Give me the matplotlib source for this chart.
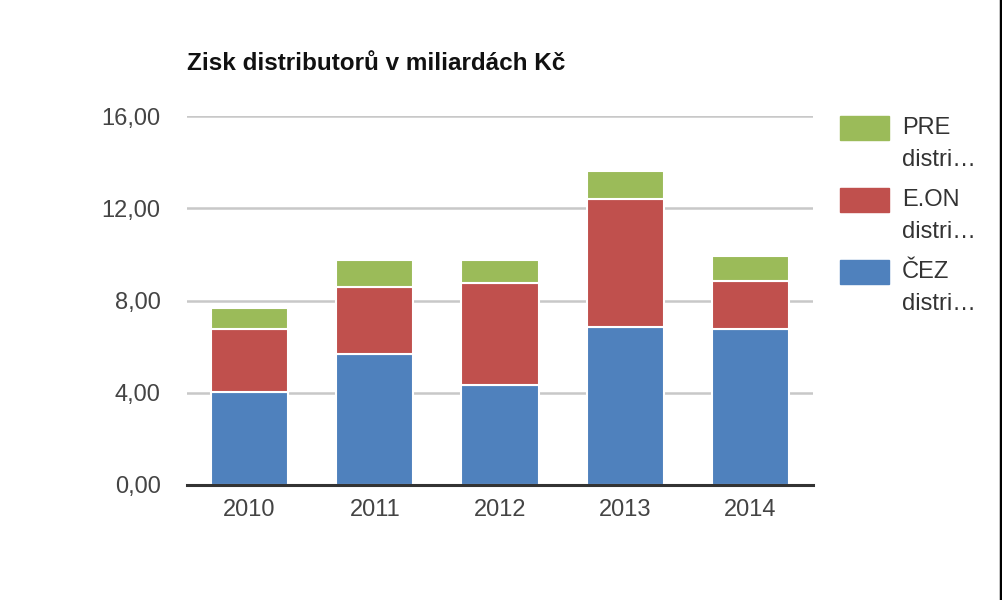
import matplotlib

matplotlib.use("Agg")
import matplotlib.pyplot as plt
import numpy as np
from matplotlib.patches import Rectangle
from matplotlib.lines import Line2D

plt.rcParams["font.family"] = ["Liberation Sans", "DejaVu Sans"]

years = ["2010", "2011", "2012", "2013", "2014"]
cez = [4.05, 5.68, 4.34, 6.87, 6.77]
eon = [2.73, 2.92, 4.43, 5.52, 2.09]
pre = [0.88, 1.16, 0.99, 1.24, 1.07]
yticks = [0, 4, 8, 12, 16]
series_names = ["PRE\ndistri…", "E.ON\ndistri…", "ČEZ\ndistri…"]
colors = {"cez": "#4F81BD", "eon": "#C0504D", "pre": "#9BBB59"}

W, H = 1003, 600
fig = plt.figure(figsize=(W / 100, H / 100), dpi=100)
ax = fig.add_axes([187 / W, 1 - 485 / H, 626 / W, 369 / H])

x = np.arange(len(years))
cez_a = np.array(cez)
eon_a = np.array(eon)
pre_a = np.array(pre)
bw = 0.616
kw = dict(width=bw, edgecolor="white", linewidth=1.5, zorder=3)
ax.bar(x, cez_a, color=colors["cez"], **kw)
ax.bar(x, eon_a, bottom=cez_a, color=colors["eon"], **kw)
ax.bar(x, pre_a, bottom=cez_a + eon_a, color=colors["pre"], **kw)

ax.set_xlim(-0.5, len(years) - 0.5)
ax.set_ylim(0, 16)
ax.set_yticks(yticks)
ax.set_yticklabels([f"{v:.2f}".replace(".", ",") for v in yticks])
ax.set_xticks(x)
ax.set_xticklabels(years)
ax.tick_params(length=0, labelsize=17, colors="#444444")
ax.tick_params(axis="y", pad=19)
ax.tick_params(axis="x", pad=10)
ax.yaxis.grid(True, color="#c8c8c8", linewidth=1.8, zorder=0)
for s in ["top", "right", "left"]:
    ax.spines[s].set_visible(False)
ax.spines["bottom"].set_color("#333333")
ax.spines["bottom"].set_linewidth(2.2)
ax.spines["bottom"].set_zorder(4)

fig.text(187 / W, 1 - 70 / H, "Zisk distributorů v miliardách Kč",
         fontsize=17.5, fontweight="bold", color="#111111", va="baseline", ha="left")

# legend drawn by hand to keep swatch aligned with first text line
leg_colors = [colors["pre"], colors["eon"], colors["cez"]]
for i, (name, c) in enumerate(zip(series_names, leg_colors)):
    top = 116 + i * 72
    fig.patches.append(Rectangle((840 / W, 1 - (top + 24) / H), 49 / W, 24 / H,
                                 transform=fig.transFigure, color=c))
    first, second = name.split("\n")
    fig.text(902 / W, 1 - (top + 12) / H, first, fontsize=17, color="#333333",
             va="center", ha="left")
    fig.text(902 / W, 1 - (top + 44) / H, second, fontsize=17, color="#333333",
             va="center", ha="left")

fig.lines.append(Line2D([1001.5 / W, 1001.5 / W], [0, 1], transform=fig.transFigure,
                        color="black", linewidth=2.5))

fig.savefig("out.png", dpi=100)
plt.close(fig)
